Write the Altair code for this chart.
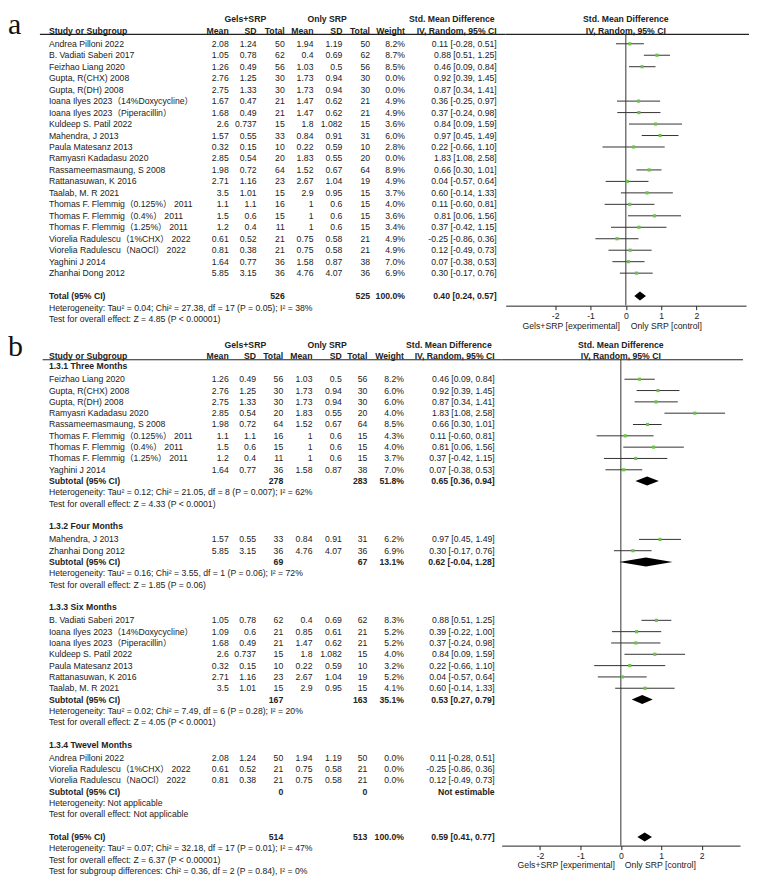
import altair as alt
import pandas as pd

FONT = "Liberation Sans, Arial, Noto Sans CJK SC, sans-serif"
SERIF = "Liberation Serif, Times New Roman, serif"
TXT = "#222222"
LINE = "#333333"
GREEN = "#6CC24A"
FS = 8.7

# ---------------- panel a data ----------------
a_study = ["Andrea Pilloni 2022", "B. Vadiati Saberi 2017", "Feizhao Liang 2020", "Gupta, R(CHX) 2008",
           "Gupta, R(DH) 2008", "Ioana Ilyes 2023（14%Doxycycline）", "Ioana Ilyes 2023（Piperacillin）",
           "Kuldeep S. Patil 2022", "Mahendra, J 2013", "Paula Matesanz 2013", "Ramyasri Kadadasu 2020",
           "Rassameemasmaung, S 2008", "Rattanasuwan, K 2016", "Taalab, M. R 2021",
           "Thomas F. Flemmig（0.125%） 2011", "Thomas F. Flemmig（0.4%） 2011", "Thomas F. Flemmig（1.25%） 2011",
           "Viorelia Radulescu（1%CHX） 2022", "Viorelia Radulescu（NaOCl） 2022", "Yaghini J 2014",
           "Zhanhai Dong 2012"]
a_mean1 = ["2.08", "1.05", "1.26", "2.76", "2.75", "1.67", "1.68", "2.6", "1.57", "0.32", "2.85", "1.98",
           "2.71", "3.5", "1.1", "1.5", "1.2", "0.61", "0.81", "1.64", "5.85"]
a_sd1 = ["1.24", "0.78", "0.49", "1.25", "1.33", "0.47", "0.49", "0.737", "0.55", "0.15", "0.54", "0.72",
         "1.16", "1.01", "1.1", "0.6", "0.4", "0.52", "0.38", "0.77", "3.15"]
a_n1 = ["50", "62", "56", "30", "30", "21", "21", "15", "33", "10", "20", "64", "23", "15", "16", "15", "11",
        "21", "21", "36", "36"]
a_mean2 = ["1.94", "0.4", "1.03", "1.73", "1.73", "1.47", "1.47", "1.8", "0.84", "0.22", "1.83", "1.52",
           "2.67", "2.9", "1", "1", "1", "0.75", "0.75", "1.58", "4.76"]
a_sd2 = ["1.19", "0.69", "0.5", "0.94", "0.94", "0.62", "0.62", "1.082", "0.91", "0.59", "0.55", "0.67",
         "1.04", "0.95", "0.6", "0.6", "0.6", "0.58", "0.58", "0.87", "4.07"]
a_n2 = ["50", "62", "56", "30", "30", "21", "21", "15", "31", "10", "20", "64", "19", "15", "15", "15", "15",
        "21", "21", "38", "36"]
a_weight = ["8.2%", "8.7%", "8.5%", "0.0%", "0.0%", "4.9%", "4.9%", "3.6%", "6.0%", "2.8%", "0.0%", "8.9%",
            "4.9%", "3.7%", "4.0%", "3.6%", "3.4%", "4.9%", "4.9%", "7.0%", "6.9%"]
a_smd = [0.11, 0.88, 0.46, 0.92, 0.87, 0.36, 0.37, 0.84, 0.97, 0.22, 1.83, 0.66, 0.04, 0.60, 0.11, 0.81,
         0.37, -0.25, 0.12, 0.07, 0.30]
a_lo = [-0.28, 0.51, 0.09, 0.39, 0.34, -0.25, -0.24, 0.09, 0.45, -0.66, 1.08, 0.30, -0.57, -0.14, -0.60,
        0.06, -0.42, -0.86, -0.49, -0.38, -0.17]
a_hi = [0.51, 1.25, 0.84, 1.45, 1.41, 0.97, 0.98, 1.59, 1.49, 1.10, 2.58, 1.01, 0.64, 1.33, 0.81, 1.56,
        1.15, 0.36, 0.73, 0.53, 0.76]
a_total = ["Total (95% CI)", "526", "525", "100.0%"]
a_total_est = [0.40, 0.24, 0.57]
a_het = "Heterogeneity: Tau² = 0.04; Chi² = 27.38, df = 17 (P = 0.05); I² = 38%"
a_test = "Test for overall effect: Z = 4.85 (P < 0.00001)"

# ---------------- panel b data ----------------
b_groups = ["1.3.1 Three Months", "1.3.2 Four Months", "1.3.3 Six Months", "1.3.4 Twevel Months"]
b_study = [
    ["Feizhao Liang 2020", "Gupta, R(CHX) 2008", "Gupta, R(DH) 2008", "Ramyasri Kadadasu 2020",
     "Rassameemasmaung, S 2008", "Thomas F. Flemmig（0.125%） 2011", "Thomas F. Flemmig（0.4%） 2011",
     "Thomas F. Flemmig（1.25%） 2011", "Yaghini J 2014"],
    ["Mahendra, J 2013", "Zhanhai Dong 2012"],
    ["B. Vadiati Saberi 2017", "Ioana Ilyes 2023（14%Doxycycline）", "Ioana Ilyes 2023（Piperacillin）",
     "Kuldeep S. Patil 2022", "Paula Matesanz 2013", "Rattanasuwan, K 2016", "Taalab, M. R 2021"],
    ["Andrea Pilloni 2022", "Viorelia Radulescu（1%CHX） 2022", "Viorelia Radulescu（NaOCl） 2022"],
]
b_mean1 = [["1.26", "2.76", "2.75", "2.85", "1.98", "1.1", "1.5", "1.2", "1.64"], ["1.57", "5.85"],
           ["1.05", "1.09", "1.68", "2.6", "0.32", "2.71", "3.5"], ["2.08", "0.61", "0.81"]]
b_sd1 = [["0.49", "1.25", "1.33", "0.54", "0.72", "1.1", "0.6", "0.4", "0.77"], ["0.55", "3.15"],
         ["0.78", "0.6", "0.49", "0.737", "0.15", "1.16", "1.01"], ["1.24", "0.52", "0.38"]]
b_n1 = [["56", "30", "30", "20", "64", "16", "15", "11", "36"], ["33", "36"],
        ["62", "21", "21", "15", "10", "23", "15"], ["50", "21", "21"]]
b_mean2 = [["1.03", "1.73", "1.73", "1.83", "1.52", "1", "1", "1", "1.58"], ["0.84", "4.76"],
           ["0.4", "0.85", "1.47", "1.8", "0.22", "2.67", "2.9"], ["1.94", "0.75", "0.75"]]
b_sd2 = [["0.5", "0.94", "0.94", "0.55", "0.67", "0.6", "0.6", "0.6", "0.87"], ["0.91", "4.07"],
         ["0.69", "0.61", "0.62", "1.082", "0.59", "1.04", "0.95"], ["1.19", "0.58", "0.58"]]
b_n2 = [["56", "30", "30", "20", "64", "15", "15", "15", "38"], ["31", "36"],
        ["62", "21", "21", "15", "10", "19", "15"], ["50", "21", "21"]]
b_weight = [["8.2%", "6.0%", "6.0%", "4.0%", "8.5%", "4.3%", "4.0%", "3.7%", "7.0%"], ["6.2%", "6.9%"],
            ["8.3%", "5.2%", "5.2%", "4.0%", "3.2%", "5.2%", "4.1%"], ["0.0%", "0.0%", "0.0%"]]
b_smd = [[0.46, 0.92, 0.87, 1.83, 0.66, 0.11, 0.81, 0.37, 0.07], [0.97, 0.30],
         [0.88, 0.39, 0.37, 0.84, 0.22, 0.04, 0.60], [0.11, -0.25, 0.12]]
b_lo = [[0.09, 0.39, 0.34, 1.08, 0.30, -0.60, 0.06, -0.42, -0.38], [0.45, -0.17],
        [0.51, -0.22, -0.24, 0.09, -0.66, -0.57, -0.14], [-0.28, -0.86, -0.49]]
b_hi = [[0.84, 1.45, 1.41, 2.58, 1.01, 0.81, 1.56, 1.15, 0.53], [1.49, 0.76],
        [1.25, 1.00, 0.98, 1.59, 1.10, 0.64, 1.33], [0.51, 0.36, 0.73]]
b_sub_n1 = ["278", "69", "167", "0"]
b_sub_n2 = ["283", "67", "163", "0"]
b_sub_w = ["51.8%", "13.1%", "35.1%", ""]
b_sub_est = [[0.65, 0.36, 0.94], [0.62, -0.04, 1.28], [0.53, 0.27, 0.79], None]
b_het = ["Heterogeneity: Tau² = 0.12; Chi² = 21.05, df = 8 (P = 0.007); I² = 62%",
         "Heterogeneity: Tau² = 0.16; Chi² = 3.55, df = 1 (P = 0.06); I² = 72%",
         "Heterogeneity: Tau² = 0.02; Chi² = 7.49, df = 6 (P = 0.28); I² = 20%",
         "Heterogeneity: Not applicable"]
b_test = ["Test for overall effect: Z = 4.33 (P < 0.0001)",
          "Test for overall effect: Z = 1.85 (P = 0.06)",
          "Test for overall effect: Z = 4.05 (P < 0.0001)",
          "Test for overall effect: Not applicable"]
b_total = ["Total (95% CI)", "514", "513", "100.0%"]
b_total_est = [0.59, 0.41, 0.77]
b_tail = ["Heterogeneity: Tau² = 0.07; Chi² = 32.18, df = 17 (P = 0.01); I² = 47%",
          "Test for overall effect: Z = 6.37 (P < 0.00001)",
          "Test for subgroup differences: Chi² = 0.36, df = 2 (P = 0.84), I² = 0%"]

top_heads = ["Gels+SRP", "Only SRP", "Std. Mean Difference"]
col_heads = ["Study or Subgroup", "Mean", "SD", "Total", "Mean", "SD", "Total", "Weight", "IV, Random, 95% CI"]
tick_values = [-2, -1, 0, 1, 2]
axis_words = ["Gels+SRP [experimental]", "Only SRP [control]"]


def ci_text(e):
    return f"{e[0]:.2f} [{e[1]:.2f}, {e[2]:.2f}]"


# ---------------- layout ----------------
GEO_A = dict(label="a", table_w=499, forest_w=241, height=323, y0=-2.930, y1=25.157, xdom=3.4,
             r_axis=22.809, axis_off=-26.7,
             cols=[41, 221.3, 249.3, 277.5, 306.3, 335.3, 363, 398, 490], gels_c=238, only_c=320,
             smd_r=488, line_x=32, r_h1=-2.17, r_h2=-1.1, r_line=-0.82, r_title=24.63, r_label=-0.8435,
             dx_l=-6, dx_r=5)
GEO_B = dict(label="b", table_w=495, forest_w=239, height=547, y0=-2.9956, y1=45.198, xdom=2.95,
             r_axis=42.352, axis_off=-32.3,
             cols=[41, 221.3, 248.7, 276, 305.3, 334.7, 360.3, 397, 488], gels_c=238, only_c=320,
             smd_r=485, line_x=34.7, r_h1=-1.91, r_h2=-0.88, r_line=-0.57, r_title=44.05, r_label=-0.881,
             dx_l=-6, dx_r=4)

STY = {"L": ("left", "normal"), "LB": ("left", "bold"), "R": ("right", "normal"),
       "RB": ("right", "bold"), "CB": ("center", "bold")}


def text_layers(items, xs, ys, xaxis=None):
    df = pd.DataFrame(items, columns=["x", "y", "t", "s"])
    out = []
    for s, (al, fw) in STY.items():
        sub = df[df.s == s]
        if sub.empty:
            continue
        out.append(alt.Chart(sub).mark_text(align=al, baseline="middle", font=FONT, fontSize=FS,
                                            fontWeight=fw, color=TXT).encode(
            x=alt.X("x:Q", scale=xs, axis=xaxis, title=None),
            y=alt.Y("y:Q", scale=ys, axis=None),
            text="t:N"))
    return out


def build_panel(geo, study_rows, summary_rows, plain_rows, heading_rows, forest_rows, diamonds):
    c = geo["cols"]
    ys = alt.Scale(domain=[geo["y0"], geo["y1"]], reverse=True, nice=False, zero=False)
    xt = alt.Scale(domain=[0, geo["table_w"]], nice=False, zero=False)
    xf = alt.Scale(domain=[-geo["xdom"], geo["xdom"]], nice=False, zero=False)
    fax = alt.Axis(values=tick_values, title=None, grid=False, tickSize=4, labelFontSize=FS,
                   labelFont=FONT, labelColor=TXT, domainColor="#222222", tickColor="#222222",
                   labelPadding=2, offset=geo["axis_off"],
                   labelExpr="datum.value < 0 ? '-' + (-datum.value) : '' + datum.value")

    items = []
    items.append((geo["gels_c"], geo["r_h1"], top_heads[0], "CB"))
    items.append((geo["only_c"], geo["r_h1"], top_heads[1], "CB"))
    items.append((geo["smd_r"], geo["r_h1"], top_heads[2], "RB"))
    items.append((c[0], geo["r_h2"], col_heads[0], "LB"))
    for k in range(1, 9):
        items.append((c[k], geo["r_h2"], col_heads[k], "RB"))
    for (y, vals) in study_rows:
        items.append((c[0], y, vals[0], "L"))
        for k in range(1, 9):
            items.append((c[k], y, vals[k], "R"))
    for (y, vals) in summary_rows:
        items.append((c[0], y, vals[0], "LB"))
        for k, v in zip([3, 6, 7, 8], vals[1:]):
            if v:
                items.append((c[k], y, v, "RB"))
    for (y, t) in plain_rows:
        items.append((c[0], y, t, "L"))
    for (y, t) in heading_rows:
        items.append((c[0], y, t, "LB"))

    tl = text_layers(items, xt, ys)
    hline = alt.Chart(pd.DataFrame({"x": [geo["line_x"]], "x2": [geo["table_w"]], "y": [geo["r_line"]]})).mark_rule(
        color="#222222", strokeWidth=1.2).encode(
        x=alt.X("x:Q", scale=xt, axis=None), x2="x2:Q", y=alt.Y("y:Q", scale=ys, axis=None))
    lab = alt.Chart(pd.DataFrame({"x": [0], "y": [geo["r_label"]], "t": [geo["label"]]})).mark_text(
        align="left", baseline="alphabetic", font=SERIF, fontSize=30, color="#111111").encode(
        x=alt.X("x:Q", scale=xt, axis=None), y=alt.Y("y:Q", scale=ys, axis=None), text="t:N")
    table = alt.layer(hline, lab, *tl).properties(width=geo["table_w"], height=geo["height"])

    # forest plot
    fdf = pd.DataFrame(forest_rows, columns=["y", "est", "lo", "hi"])
    hline_f = alt.Chart(pd.DataFrame({"y": [geo["r_line"]]})).mark_rule(color="#222222", strokeWidth=1.2).encode(
        x=alt.value(0), x2=alt.value(geo["forest_w"] + 3), y=alt.Y("y:Q", scale=ys, axis=None))
    zero = alt.Chart(pd.DataFrame({"x": [0], "y": [geo["r_line"]], "y2": [geo["r_axis"]]})).mark_rule(
        color=LINE, strokeWidth=1).encode(
        x=alt.X("x:Q", scale=xf, axis=fax, title=None), y=alt.Y("y:Q", scale=ys, axis=None), y2="y2:Q")
    ci = alt.Chart(fdf).mark_rule(color=LINE, strokeWidth=1).encode(
        x=alt.X("lo:Q", scale=xf, axis=fax, title=None), x2="hi:Q", y=alt.Y("y:Q", scale=ys, axis=None))
    sq = alt.Chart(fdf).mark_square(size=10, color=GREEN, opacity=1).encode(
        x=alt.X("est:Q", scale=xf, axis=fax, title=None), y=alt.Y("y:Q", scale=ys, axis=None))
    drows = []
    unit = geo["height"] / (geo["y1"] - geo["y0"])
    for i, (y, e) in enumerate(diamonds):
        h = 4.5 / unit
        drows += [(i, e[1], y, y), (i, e[0], y - h, y + h), (i, e[2], y, y)]
    ddf = pd.DataFrame(drows, columns=["id", "x", "y", "y2"])
    dia = alt.Chart(ddf).mark_area(color="black", orient="vertical", opacity=1).encode(
        x=alt.X("x:Q", scale=xf, axis=fax, title=None), y=alt.Y("y:Q", scale=ys, axis=None), y2="y2:Q",
        detail="id:N")
    fitems = [(0, geo["r_h1"], top_heads[2], "CB"), (0, geo["r_h2"], col_heads[8], "CB")]
    ftl = text_layers(fitems, xf, ys, fax)
    at = pd.DataFrame({"x": [0, 0], "y": [geo["r_title"]] * 2, "t": axis_words})
    tleft = alt.Chart(at.iloc[[0]]).mark_text(align="right", baseline="middle", font=FONT, fontSize=FS,
                                              color=TXT, dx=geo["dx_l"]).encode(
        x=alt.X("x:Q", scale=xf, axis=fax, title=None), y=alt.Y("y:Q", scale=ys, axis=None), text="t:N")
    tright = alt.Chart(at.iloc[[1]]).mark_text(align="left", baseline="middle", font=FONT, fontSize=FS,
                                               color=TXT, dx=geo["dx_r"]).encode(
        x=alt.X("x:Q", scale=xf, axis=fax, title=None), y=alt.Y("y:Q", scale=ys, axis=None), text="t:N")
    forest = alt.layer(hline_f, zero, ci, sq, dia, *ftl, tleft, tright).properties(
        width=geo["forest_w"], height=geo["height"])
    return alt.hconcat(table, forest, spacing=0, bounds="flush")


# ----- panel a rows -----
a_study_rows, a_forest = [], []
for i in range(len(a_study)):
    a_study_rows.append((i, [a_study[i], a_mean1[i], a_sd1[i], a_n1[i], a_mean2[i], a_sd2[i], a_n2[i],
                             a_weight[i], ci_text([a_smd[i], a_lo[i], a_hi[i]])]))
    if a_weight[i] != "0.0%":
        a_forest.append((i, a_smd[i], a_lo[i], a_hi[i]))
r_tot = len(a_study) + 1
a_summary = [(r_tot, a_total + [ci_text(a_total_est)])]
a_plain = [(r_tot + 1, a_het), (r_tot + 2, a_test)]
panel_a = build_panel(GEO_A, a_study_rows, a_summary, a_plain, [], a_forest, [(r_tot, a_total_est)])

# ----- panel b rows -----
b_study_rows, b_forest, b_summary, b_plain, b_heads, b_dia = [], [], [], [], [], []
s = 0.0
for g in range(len(b_groups)):
    b_heads.append((s, b_groups[g]))
    s += 1.15
    for j in range(len(b_study[g])):
        b_study_rows.append((s, [b_study[g][j], b_mean1[g][j], b_sd1[g][j], b_n1[g][j], b_mean2[g][j],
                                 b_sd2[g][j], b_n2[g][j], b_weight[g][j],
                                 ci_text([b_smd[g][j], b_lo[g][j], b_hi[g][j]])]))
        if b_weight[g][j] != "0.0%":
            b_forest.append((s, b_smd[g][j], b_lo[g][j], b_hi[g][j]))
        s += 1
    est = b_sub_est[g]
    b_summary.append((s, ["Subtotal (95% CI)", b_sub_n1[g], b_sub_n2[g], b_sub_w[g],
                          ci_text(est) if est else "Not estimable"]))
    if est:
        b_dia.append((s, est))
    s += 1
    b_plain.append((s, b_het[g]))
    s += 1
    b_plain.append((s, b_test[g]))
    s += 2
b_summary.append((s, b_total + [ci_text(b_total_est)]))
b_dia.append((s, b_total_est))
for t in b_tail:
    s += 1
    b_plain.append((s, t))
panel_b = build_panel(GEO_B, b_study_rows, b_summary, b_plain, b_heads, b_forest, b_dia)

chart = alt.vconcat(panel_a, panel_b, spacing=0).properties(
    padding=0, background="white").configure_view(stroke=None)

chart.save("out.html", embed_options={"renderer": "svg", "actions": False})
